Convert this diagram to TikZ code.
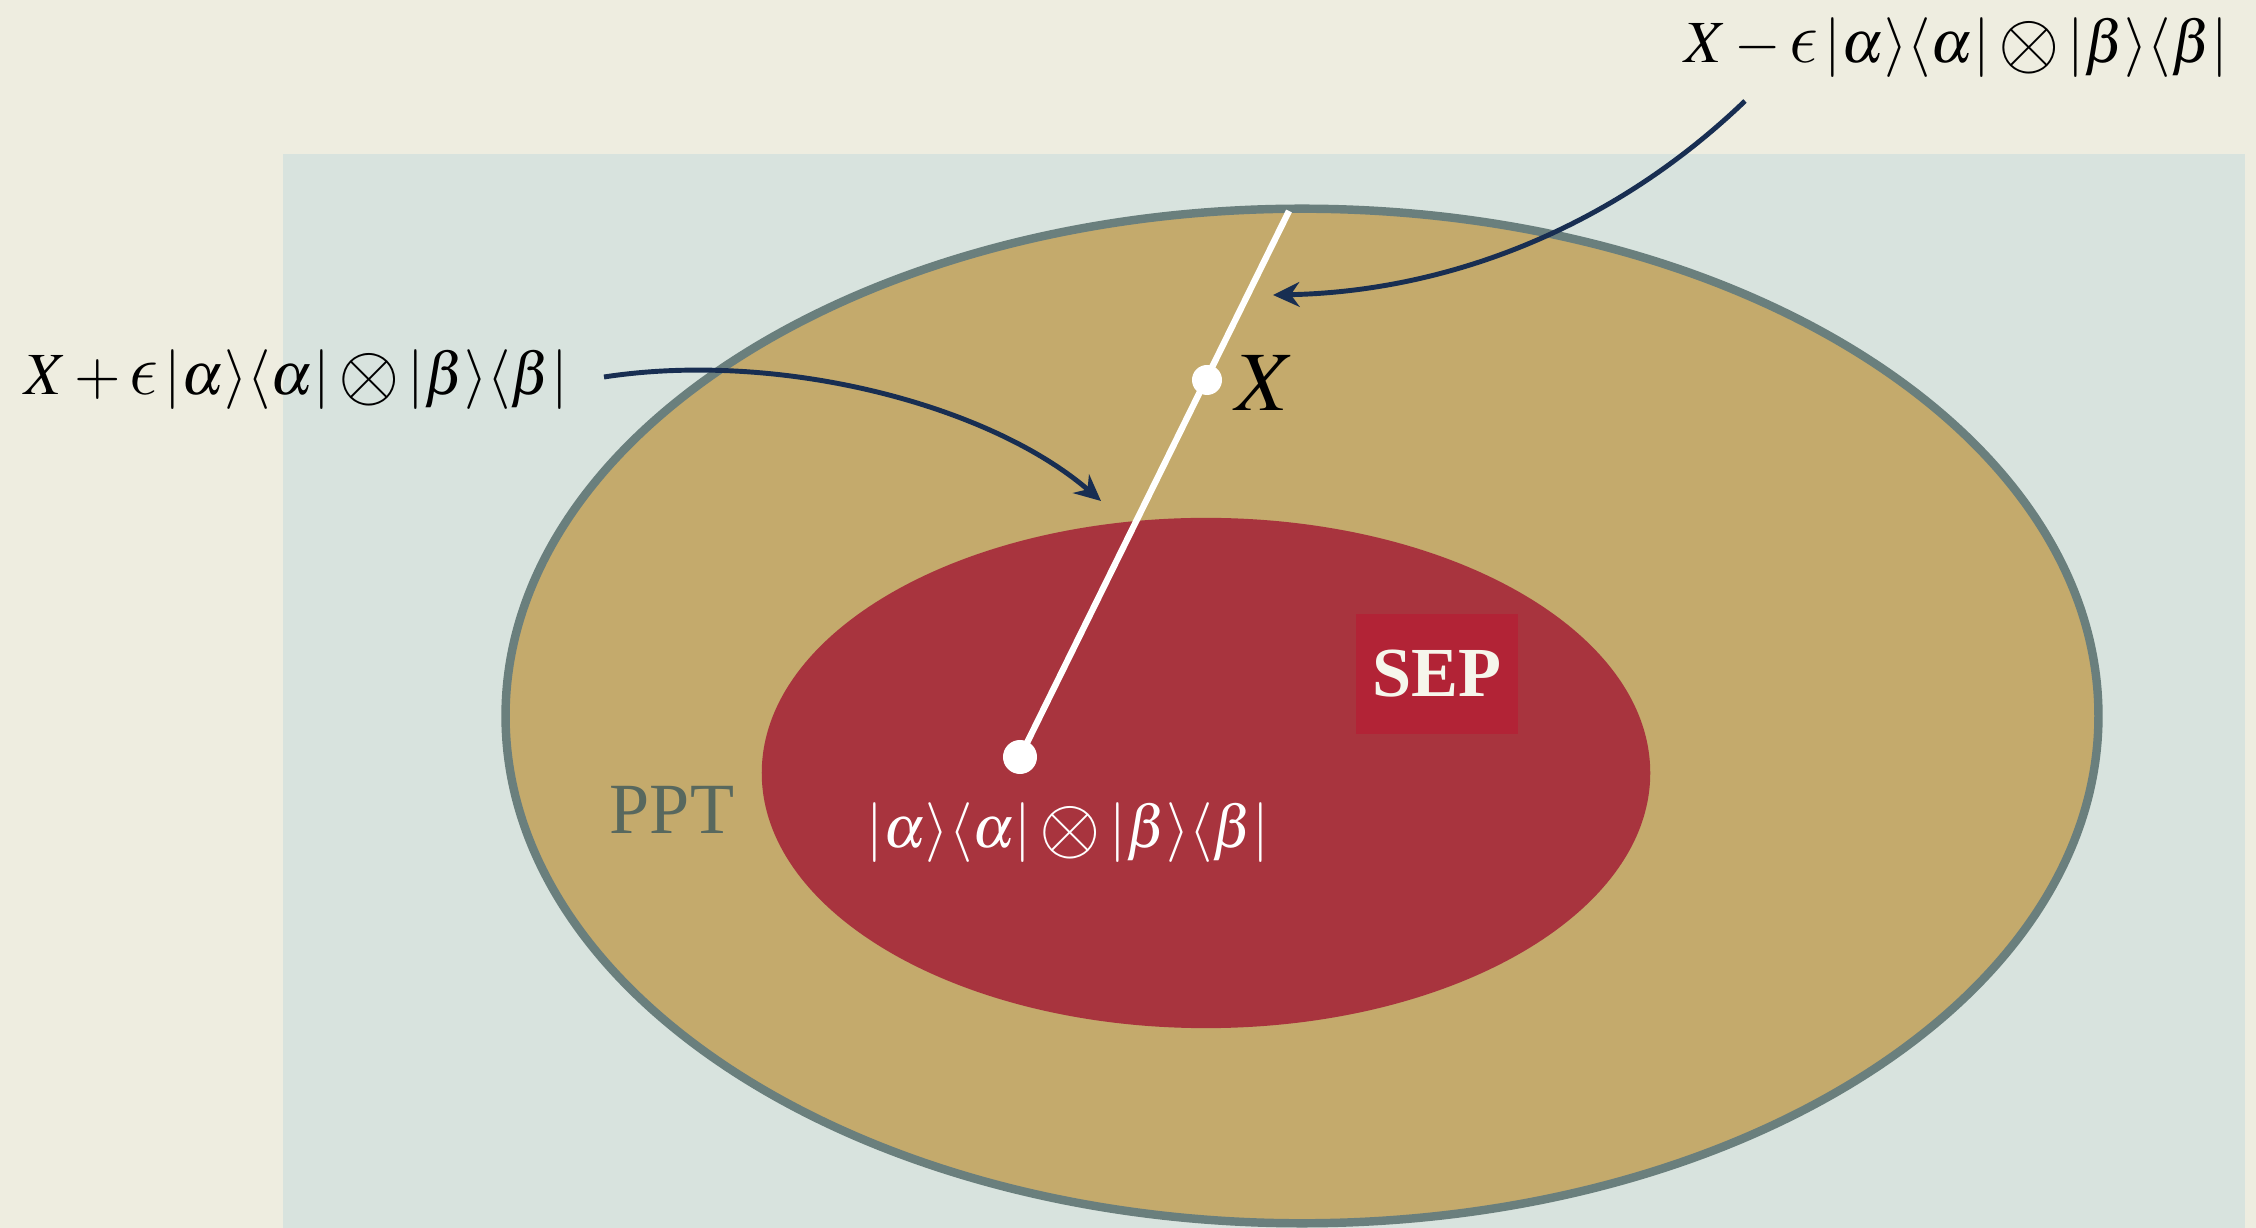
\documentclass[tikz,border=0pt]{standalone}
\usepackage{mathptmx}
\usepackage{graphicx}
\usepackage[no-math]{fontspec}
\setmainfont{Liberation Serif}
\usetikzlibrary{arrows.meta}
\DeclareSymbolFont{cmlettersx}{OML}{cmm}{m}{it}
\DeclareMathSymbol{\lunateepsraw}{\mathord}{cmlettersx}{"0F}
\DeclareSymbolFont{cmsymx}{OMS}{cmsy}{m}{n}
\DeclareMathSymbol{\cmotimes}{\mathbin}{cmsymx}{"0A}
\newcommand{\lunateeps}{\mathord{\scalebox{1.2}{$\lunateepsraw$}}}
\newcommand{\tensorop}{\mathbin{\vcenter{\hbox{\scalebox{1.3}{$\cmotimes$}}}}}
\newcommand{\prodstate}{|\alpha\rangle\langle\alpha|\tensorop|\beta\rangle\langle\beta|}
\definecolor{bgcream}{RGB}{238,237,224}
\definecolor{bluegrey}{RGB}{216,227,222}
\definecolor{tanfill}{RGB}{196,170,108}
\definecolor{rimgrey}{RGB}{106,127,125}
\definecolor{sepred}{RGB}{168,52,62}
\definecolor{sepbox}{RGB}{178,35,54}
\definecolor{navy}{RGB}{24,46,82}
\definecolor{pptgrey}{RGB}{88,104,94}
\definecolor{ivory}{RGB}{246,246,236}
\tikzset{
  conn/.style={draw=navy, line width=1.4pt, -{Stealth[length=7.5pt,width=7pt]}},
  whitedot/.style={circle, fill=white, inner sep=0pt, minimum size=#1},
  formula/.style={font=\fontsize{17}{20}\selectfont, inner sep=0pt},
}
\begin{document}
\begin{tikzpicture}[x=0.01cm,y=-0.01cm]
\fill[bgcream] (0,0) rectangle (2256,1228);
\useasboundingbox (0,0) rectangle (2256,1228);
\fill[bluegrey] (283,154) rectangle (2245,1228);
% PPT set
\draw[fill=tanfill, draw=rimgrey, line width=2.4pt] (1302,716) ellipse [x radius=7.96cm, y radius=5.07cm];
% SEP set
\fill[sepred] (1206,773) ellipse [x radius=4.44cm, y radius=2.55cm];
\node[fill=sepbox, minimum width=1.61cm, minimum height=1.20cm, inner sep=0pt, text=ivory, font=\bfseries\fontsize{20}{24}\selectfont] (sep) at (1437,674) {SEP};
\node[text=pptgrey, font=\fontsize{20.5}{24}\selectfont, inner sep=0pt] (ppt) at (672,810) {PPT};
% line
\coordinate (lineTop) at (1289,211);
\coordinate (prodPt) at (1020,757);
\draw[white, line width=1.8pt] (prodPt) -- (lineTop);
\node[whitedot=0.34cm] (prodDot) at (prodPt) {};
\node[whitedot=0.30cm] (xDot) at (1207,380) {};
\node[font=\fontsize{24}{28}\selectfont, inner sep=0pt] (xLabel) at (1265,383) {$X$};
\node[formula, text=white] (prodLabel) at (1068,833) {$\prodstate$};
% labels with arrows
\node[formula] (minusLabel) at (1956,48) {$X-\lunateeps\,\prodstate$};
\node[formula] (plusLabel) at (296,380) {$X+\lunateeps\,\prodstate$};
\coordinate (minusStart) at (1745,101);
\coordinate (minusEnd) at (1273,295);
\coordinate (plusStart) at (604,377);
\coordinate (plusEnd) at (1101,501);
\draw[conn] (minusStart) .. controls (1600,240) and (1430,292) .. (minusEnd);
\draw[conn] (plusStart) .. controls (780,350) and (990,405) .. (plusEnd);
\end{tikzpicture}
\end{document}
